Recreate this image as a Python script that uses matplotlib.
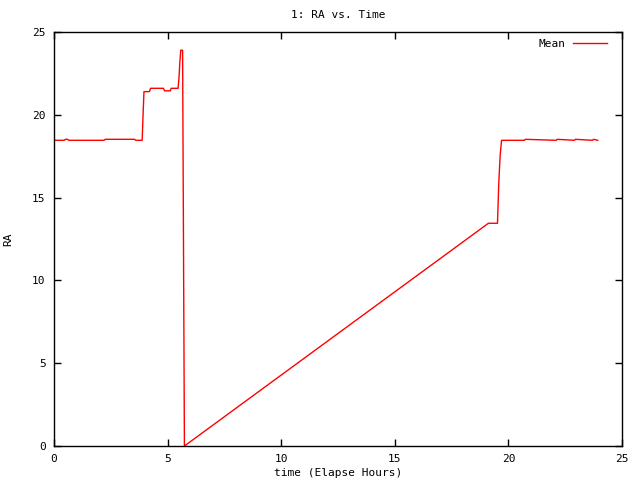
import matplotlib
matplotlib.use('Agg')
import matplotlib.pyplot as plt

# RA readings (hours) against elapsed time
time_h = [0.0, 0.45, 0.5, 0.6, 0.65, 2.2, 2.25, 3.55, 3.6, 3.88, 3.92, 3.96,
          4.2, 4.25, 4.82, 4.86, 5.12, 5.16, 5.46, 5.5, 5.54, 5.58, 5.66,
          5.68, 5.72, 5.74, 19.12, 19.52, 19.58, 19.64, 19.7, 19.74,
          20.7, 20.75, 22.1, 22.15, 22.9, 22.95, 23.7, 23.75, 23.93]
ra_mean = [18.46, 18.46, 18.52, 18.52, 18.46, 18.46, 18.52, 18.52, 18.46, 18.46, 20.0, 21.4,
           21.4, 21.6, 21.6, 21.45, 21.45, 21.6, 21.6, 22.2, 23.2, 23.9, 23.9,
           18.0, 6.0, 0.0, 13.45, 13.45, 16.0, 17.6, 18.46, 18.46,
           18.46, 18.52, 18.46, 18.52, 18.46, 18.52, 18.46, 18.52, 18.46]

x_ticks = [0, 5, 10, 15, 20, 25]
y_ticks = [0, 5, 10, 15, 20, 25]

plt.rcParams['font.family'] = 'DejaVu Sans Mono'
plt.rcParams['font.size'] = 8

fig = plt.figure(figsize=(6.4, 4.8), dpi=100)
ax = fig.add_axes([54 / 640, 34 / 480, 568 / 640, 414 / 480])

ax.plot(time_h, ra_mean, color='red', lw=1.0, label='Mean')

ax.set_xlim(0, 25)
ax.set_ylim(0, 25)
ax.set_xticks(x_ticks)
ax.set_yticks(y_ticks)
ax.tick_params(direction='in', top=True, right=True, length=5, width=1, pad=6)
for s in ax.spines.values():
    s.set_linewidth(1)

ax.set_title('1: RA vs. Time', fontsize=8, pad=10)
ax.set_xlabel('time (Elapse Hours)', labelpad=3)
ax.set_ylabel('RA')
ax.yaxis.set_label_coords(-0.072, 0.5)

ax.legend(loc='upper right', bbox_to_anchor=(0.9815, 0.994), frameon=False,
          markerfirst=False, handlelength=3.1, handletextpad=0.6,
          borderaxespad=0, fontsize=8)

fig.savefig('out.png', dpi=100)
